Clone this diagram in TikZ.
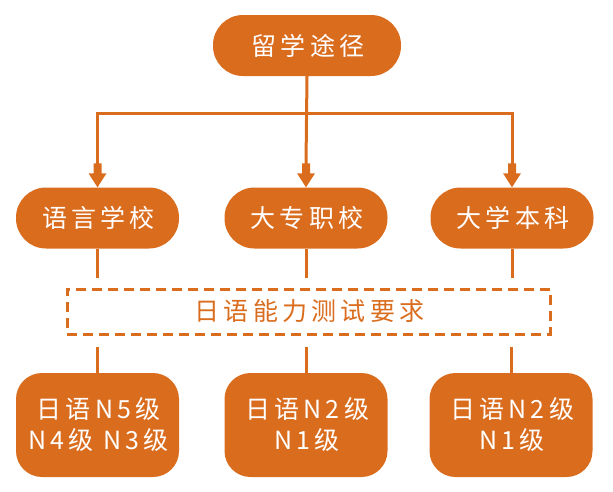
\documentclass[tikz,border=0pt]{standalone}
\usepackage{fontspec}
\newfontfamily\cjk{Noto Sans CJK SC}[LetterSpace=17]
\usetikzlibrary{arrows.meta,calc}
\definecolor{org}{RGB}{218,108,30}
\begin{document}
\begin{tikzpicture}[x=1pt,y=-1pt,
  txt/.style={font=\cjk\fontsize{25}{31}\selectfont, inner sep=0pt, align=center},
  box/.style={txt, fill=org, text=white},
  pill/.style={box, minimum width=163pt, minimum height=61pt, rounded corners=30pt},
  lvl/.style={box, minimum width=163pt, minimum height=104pt, rounded corners=26pt},
  conn/.style={draw=org, line width=3pt},
  dashbox/.style={txt, draw=org, text=org, line width=3pt, dash pattern=on 10pt off 6pt, minimum width=483pt, minimum height=45pt}]
\useasboundingbox (0,0) rectangle (613,491);
\node[pill, minimum width=188pt] (root) at (307,45.5) {\hspace{2.1pt}留学途径};
\node[pill] (a) at (97.5,218) {\hspace{2.1pt}语言学校};
\node[pill] (b) at (306,218) {\hspace{2.1pt}大专职校};
\node[pill] (c) at (512,218) {\hspace{2.1pt}大学本科};
\node[dashbox] (req) at (308.5,311.5) {\hspace{2.1pt}日语能力测试要求};
\node[lvl] (ra) at (97.5,425) {\hspace{2.1pt}日语N5级\\\hspace{2.1pt}N4级 N3级};
\node[lvl] (rb) at (306,425) {\hspace{2.1pt}日语N2级\\\hspace{2.1pt}N1级};
\node[lvl] (rc) at (511,425) {\hspace{2.1pt}日语N2级\\\hspace{2.1pt}N1级};
\coordinate (hy) at (0,113);
\coordinate (ab) at (0,164);
\coordinate (g1) at (0,278);
\coordinate (g2) at (0,347);
% top tree
\draw[conn] (root.south) -- (b.north |- ab);
\draw[conn, line join=miter] (a.north |- ab) -- (a.north |- hy) -- (c.north |- hy) -- (c.north |- ab);
\foreach \n in {a,b,c}{
  \fill[org] (\n.north) -- ++(-9,-14) -- ++(5,0) -- ++(0,-10) -- ++(8,0) -- ++(0,10) -- ++(5,0) -- cycle;
}
% lines to and from the dashed box
\foreach \u/\l in {a/ra,b/rb,c/rc}{
  \draw[conn] (\u.south) -- (\u.south |- g1);
  \draw[conn] (\l.north) -- (\l.north |- g2);
}
\end{tikzpicture}
\end{document}
